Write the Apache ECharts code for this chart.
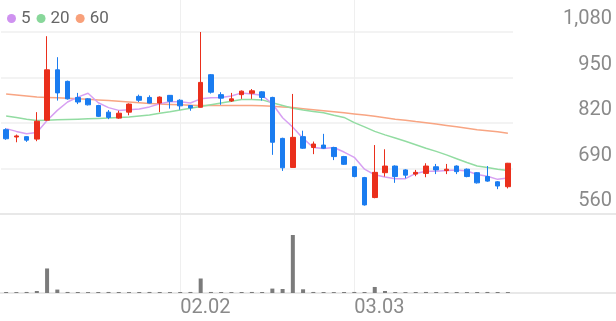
<!DOCTYPE html>
<html><head><meta charset="utf-8">
<script src="https://cdn.jsdelivr.net/npm/echarts@6/dist/echarts.min.js"></script>
<style>html,body{margin:0;padding:0;background:#fff}#c{width:616px;height:321px}</style>
</head><body><div id="c"></div>
<script>
const dates = ['01.08','01.09','01.12','01.13','01.14','01.15','01.16','01.19','01.20','01.21',
  '01.22','01.23','01.26','01.27','01.28','01.29','01.30','02.02','02.03','02.04',
  '02.05','02.06','02.09','02.10','02.11','02.12','02.13','02.19','02.20','02.23',
  '02.24','02.25','02.26','02.27','03.03','03.04','03.05','03.06','03.09','03.10',
  '03.11','03.12','03.13','03.16','03.17','03.18','03.19','03.20','03.23','03.24'];
const openP  = [801,780,781,774,828,972,939,893,889,870, 851,834,851,896,893,877,899,885,870,865,
  958,901,883,901,905,909,893,776,693,781, 750,757,750,724,695,664,607,678,697,686,
  674,676,695,684,697,688,678,667,652,638];
const closeP = [775,783,771,825,972,906,889,880,872,839, 836,848,874,885,877,894,882,869,863,936,
  908,891,889,911,912,893,765,692,779,748, 760,748,724,702,667,586,679,697,667,671,
  679,697,686,688,681,667,649,654,640,705];
const lowP   = [772,765,766,768,826,884,887,874,870,837, 831,832,842,880,876,851,861,858,855,864,
  904,872,880,889,889,884,729,683,692,746, 731,746,714,700,665,584,605,667,649,662,
  668,665,674,674,674,665,647,652,631,633];
const highP  = [805,787,782,851,1068,1008,941,906,891,872, 857,855,876,901,899,896,900,888,871,1080,
  960,908,906,913,917,911,895,778,903,798, 767,789,752,726,697,666,757,745,699,688,
  686,705,703,703,699,690,680,697,654,706];
const volume = [17,16,18,35,423,59,18,17,16,17, 18,17,16,17,18,17,16,17,18,250,
  18,17,16,17,18,17,76,69,1000,64, 18,17,16,17,18,17,104,35,17,16,
  17,18,17,16,17,16,17,18,17,16];
const ma5  = [804,796,789,793,827,856,880,894,905,878, 864,856,858,860,866,875,881,881,877,889,
  892,893,897,906,903,899,875,835,808,776, 750,747,750,737,722,688,672,666,661,661,
  676,682,682,684,686,683,673,668,659,663];
const ma20 = [840,836,831,827,828,829,830,831,832,833, 834,836,837,840,843,848,852,857,862,867,
  872,877,882,887,887,886,878,870,862,857, 853,849,842,836,821,809,796,786,777,768,
  758,748,739,729,718,707,697,693,688,684];
const ma60 = [903,900,897,894,893,892,891,889,888,886, 884,882,880,878,876,874,873,872,871,870,
  870,870,870,870,870,869,868,866,864,861, 858,855,852,849,846,843,839,835,831,828,
  824,821,817,813,809,805,801,798,795,791];
const dateTickLabels = ['02.02','03.03'];
const maNames = ['5','20','60'];

const candleData = dates.map((d,i)=>[openP[i],closeP[i],lowP[i],highP[i]]);
const font = 'Roboto';
const hiddenAxis = {axisLine:{show:false},axisTick:{show:false},axisLabel:{show:false},splitLine:{show:false}};
const showDate = (i,v)=>dateTickLabels.indexOf(v)>=0;

const chart = echarts.init(document.getElementById('c'),null,{renderer:'canvas'});
chart.setOption({
  animation:false,
  textStyle:{fontFamily:font},
  legend:{left:2,top:5,icon:'circle',itemWidth:9,itemHeight:9,itemGap:6,
    textStyle:{fontSize:17,color:'#666',fontFamily:font},data:maNames},
  grid:[
    {left:1,right:103,top:32,height:182},
    {left:1,right:103,top:235,height:58},
    {left:0,right:0,top:32,height:182},
    {left:0,right:0,top:235,height:58},
    {left:6,right:108,top:0,height:293}
  ],
  xAxis:[
    Object.assign({type:'category',gridIndex:0,data:dates,boundaryGap:true},hiddenAxis),
    Object.assign({type:'category',gridIndex:1,data:dates,boundaryGap:true},hiddenAxis),
    {type:'value',gridIndex:2,min:0,max:1,axisLine:{show:true,onZero:false,lineStyle:{color:'#e8e8e8',width:2}},axisTick:{show:false},axisLabel:{show:false},splitLine:{show:false}},
    {type:'value',gridIndex:3,min:0,max:1,axisLine:{show:true,onZero:false,lineStyle:{color:'#e8e8e8',width:2}},axisTick:{show:false},axisLabel:{show:false},splitLine:{show:false}},
    {type:'category',gridIndex:4,data:dates,boundaryGap:false,axisLine:{show:false},axisTick:{show:false},
      axisLabel:{interval:showDate,align:'left',margin:5,fontSize:20,color:'#8a8a8a',fontFamily:font},
      splitLine:{show:true,interval:showDate,lineStyle:{color:'#efefef',width:1}}}
  ],
  yAxis:[
    {type:'value',gridIndex:0,position:'right',min:560,max:1080,interval:130,
      axisLine:{show:false},axisTick:{show:false},
      axisLabel:{align:'right',margin:99,verticalAlign:'bottom',padding:[0,0,3,0],fontSize:20,color:'#8a8a8a',fontFamily:font,
        formatter:v=>v.toLocaleString('en-US')},
      splitLine:{show:true,lineStyle:{color:'#efefef',width:1.5}}},
    Object.assign({type:'value',gridIndex:1,min:0,max:1000},hiddenAxis),
    Object.assign({type:'value',gridIndex:2,min:0,max:1},hiddenAxis),
    Object.assign({type:'value',gridIndex:3,min:0,max:1},hiddenAxis),
    Object.assign({type:'value',gridIndex:4,min:0,max:1},hiddenAxis)
  ],
  series:[
    {name:'60',type:'line',xAxisIndex:0,yAxisIndex:0,data:ma60,showSymbol:false,z:2,
      lineStyle:{width:1.5,color:'#f8a583'},itemStyle:{color:'#f8a07a'}},
    {name:'20',type:'line',xAxisIndex:0,yAxisIndex:0,data:ma20,showSymbol:false,z:2,
      lineStyle:{width:1.5,color:'#92dca2'},itemStyle:{color:'#88d79a'}},
    {name:'5',type:'line',xAxisIndex:0,yAxisIndex:0,data:ma5,showSymbol:false,z:2,
      lineStyle:{width:1.5,color:'#d7a0f2'},itemStyle:{color:'#cf92f0'}},
    {name:'price',type:'candlestick',xAxisIndex:0,yAxisIndex:0,data:candleData,barWidth:5,z:3,
      itemStyle:{color:'#ea2f1c',color0:'#1a7cf0',borderColor:'#ea2f1c',borderColor0:'#1a7cf0',borderWidth:1}},
    {name:'volume',type:'bar',xAxisIndex:1,yAxisIndex:1,data:volume,barWidth:4,
      itemStyle:{color:'#7b7b7b'}}
  ]
});
</script></body></html>
